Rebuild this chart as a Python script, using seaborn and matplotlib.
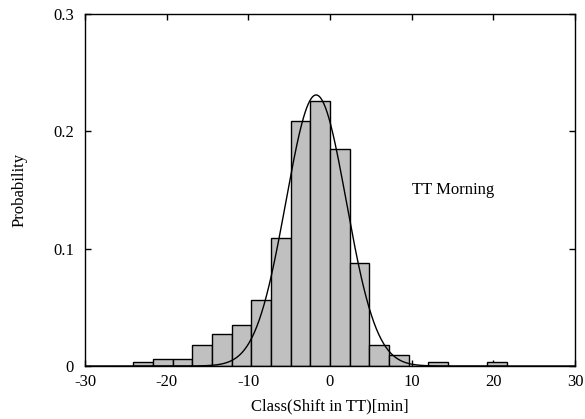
import numpy as np
import pandas as pd
import matplotlib
matplotlib.use("Agg")
import matplotlib.pyplot as plt
import seaborn as sns

# Data
bin_start = -24.1
bin_width = 2.41
probabilities = [0.003, 0.006, 0.006, 0.018, 0.027, 0.035, 0.056, 0.109,
                 0.209, 0.226, 0.185, 0.088, 0.018, 0.009, 0.0, 0.003,
                 0.0, 0.0, 0.003]
# fitted gaussian curve parameters
fit_amplitude = 0.231
fit_mean = -1.7
fit_sigma = 3.7

x_ticks = [-30, -20, -10, 0, 10, 20, 30]
y_ticks = [0, 0.1, 0.2, 0.3]
y_tick_labels = ["0", "0.1", "0.2", "0.3"]

sns.set_theme(style="ticks")
plt.rcParams['font.family'] = ['Liberation Serif', 'DejaVu Serif']
plt.rcParams['text.color'] = 'black'
plt.rcParams['axes.labelcolor'] = 'black'
plt.rcParams['xtick.color'] = 'black'
plt.rcParams['ytick.color'] = 'black'

n = len(probabilities)
edges = [float(bin_start + bin_width * i) for i in range(n + 1)]
centers = [(edges[i] + edges[i + 1]) / 2 for i in range(n)]
df = pd.DataFrame({"shift": centers, "prob": probabilities})

fig = plt.figure(figsize=(5.85, 4.19), dpi=100)
ax = fig.add_axes([85 / 585, 1 - 366 / 419, (575 - 85) / 585, (366 - 14) / 419])

sns.histplot(data=df, x="shift", weights="prob", bins=edges, stat="count",
             color="#c0c0c0", edgecolor="black", linewidth=1.0, alpha=1.0, ax=ax)

xs = np.linspace(-30, 30, 600)
ys = fit_amplitude * np.exp(-0.5 * ((xs - fit_mean) / fit_sigma) ** 2)
sns.lineplot(x=xs, y=ys, color="black", linewidth=1.0, ax=ax)

ax.set_xlim(-30, 30)
ax.set_ylim(0, 0.3)
ax.set_xticks(x_ticks)
ax.set_xticklabels([str(t) for t in x_ticks], fontsize=12)
ax.set_yticks(y_ticks)
ax.set_yticklabels(y_tick_labels, fontsize=12)
ax.tick_params(direction="in", length=4, width=1.0, top=True, right=True)
ax.tick_params(axis="x", pad=6)
ax.tick_params(axis="y", pad=8)
ax.set_xlabel("Class(Shift in TT)[min]", fontsize=12, labelpad=6)
ax.set_ylabel("Probability", fontsize=12, labelpad=18)
for s in ax.spines.values():
    s.set_linewidth(1.0)
    s.set_color("black")

ax.text(10, 0.15, "TT Morning", fontsize=12, ha="left", va="center")

fig.savefig("out.png", dpi=100)
